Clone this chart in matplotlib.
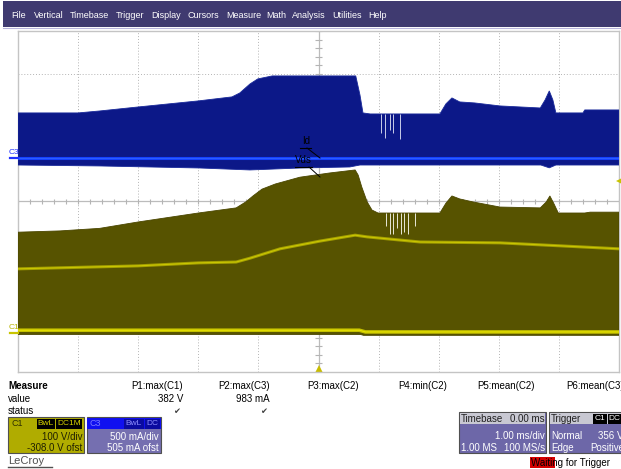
import matplotlib
matplotlib.use("Agg")
import matplotlib.pyplot as plt
import numpy as np
from matplotlib.patches import Rectangle
from matplotlib.lines import Line2D
from matplotlib.collections import LineCollection

plt.rcParams['font.family'] = ['Liberation Sans', 'DejaVu Sans']

W, H = 621, 469

# ---------------- data ----------------
menu_items = ["File", "Vertical", "Timebase", "Trigger", "Display", "Cursors",
              "Measure", "Math", "Analysis", "Utilities", "Help"]
menu_x = [11, 34, 70, 116, 151, 187, 226, 266, 292, 332, 368]

# C3 (Id) persistence envelope: time in ms, current in mA
c3_top_t = [-5.0, -4.0, -3.64, -3.0, -2.0, -1.44, -1.31, -1.14, -1.01, -0.77, 0.62, 0.69,
            0.74, 0.86, 2.02, 2.12, 2.22, 2.35, 2.60, 3.02, 3.69, 3.77, 3.84, 3.90, 3.95,
            4.40, 4.43, 5.0]
c3_top = [534, 534, 557, 604, 675, 722, 768, 874, 933, 968, 968, 745,
          534, 522, 522, 640, 710, 663, 651, 616, 592, 686, 792, 686, 534,
          534, 569, 569]
c3_bot_t = [-5.0, -3.64, -1.97, -1.14, -0.31, 0.52, 0.69, 3.70, 3.84, 3.95, 5.0]
c3_bot = [-77, -88, -112, -135, -112, -100, -77, -77, -110, -77, -77]
c3_line = 0  # mA, bright persistence line
c3_notch_t = [1.04, 1.11, 1.19, 1.24, 1.36]
c3_notch_low = [298, 240, 330, 300, 230]

# C1 (Vds) persistence envelope: time in ms, voltage in V
c1_top_t = [-5.0, -4.30, -3.64, -3.0, -2.0, -1.37, -1.21, -1.09, -0.94, -0.72, -0.31, 0.19,
            0.61, 0.66, 0.72, 0.81, 0.89, 0.99, 2.02, 2.12, 2.22, 2.35, 2.57, 3.02,
            3.69, 3.79, 3.85, 3.92, 3.99, 4.43, 4.52, 5.0]
c1_top = [236, 239, 245, 260, 281, 293, 307, 321, 337, 349, 365, 375,
          382, 370, 342, 307, 288, 281, 281, 304, 321, 314, 307, 295,
          293, 307, 321, 302, 281, 281, 283, 283]
c1_bot_t = [-5.0, 0.70, 0.75, 5.0]
c1_bot = [-4, -4, -6, -6]
c1_base_t = [-5.0, 0.68, 0.78, 5.0]
c1_base = [6, 6, 2, 2]
c1_mid_t = [-5.0, -3.0, -2.0, -1.37, -1.14, -0.64, 0.02, 0.61, 0.81, 1.69, 3.02, 4.02, 5.0]
c1_mid = [150, 157, 164, 166, 175, 197, 215, 229, 225, 213, 211, 204, 197]
c1_notch_t = [1.13, 1.19, 1.24, 1.31, 1.38, 1.43, 1.49, 1.61]
c1_notch_low = [250, 232, 232, 245, 232, 236, 232, 250]

c1_scale, c1_center = 100, 308      # V/div, V at screen centre
c3_scale, c3_center = 500, -505     # mA/div, mA at screen centre
trig_level = 356

meas_names = ["P1:max(C1)", "P2:max(C3)", "P3:max(C2)", "P4:min(C2)", "P5:mean(C2)", "P6:mean(C3)"]
meas_values = ["382 V", "983 mA", "", "", "", ""]
meas_status = [True, True, False, False, False, False]
meas_right = [183, 270, 359, 447, 535, 624]

# ---------------- figure ----------------
fig = plt.figure(figsize=(W / 100, H / 100), dpi=100)
fig.patch.set_facecolor('white')


def fx(px):
    return px / W


def fy(py):
    return 1 - py / H


def txt(px, py, s, **kw):
    kw.setdefault('va', 'center')
    kw.setdefault('fontsize', 7)
    return fig.text(fx(px), fy(py), s, **kw)


def rect(x0, y0, x1, y1, fc, ec='none', lw=0, z=1):
    r = Rectangle((fx(x0), fy(y1)), (x1 - x0) / W, (y1 - y0) / H,
                  transform=fig.transFigure, fc=fc, ec=ec, lw=lw, zorder=z)
    fig.patches.append(r)
    return r


def fline(xs, ys, **kw):
    fig.lines.append(Line2D([fx(x) for x in xs], [fy(y) for y in ys],
                            transform=fig.transFigure, **kw))


# menu bar
rect(3, 1, 621, 27, '#3f3a70')
fline([3, 621], [28, 28], color='#b8b4dc', lw=0.8)
for name, x in zip(menu_items, menu_x):
    txt(x, 15.5, name, color='white', fontsize=6.5)

# grid axes
rect_ax = [fx(18), fy(372), 601 / W, 341 / H]
ax = fig.add_axes(rect_ax)
ax.set_xlim(-5, 5)
ax.set_ylim(-4, 4)
ax.set_xticks([])
ax.set_yticks([])
for s in ax.spines.values():
    s.set_color('#c4c4c4')
    s.set_linewidth(1.0)
for i in range(-4, 5):
    if i != 0:
        ax.axvline(i, color='#b4b4b4', lw=0.7, ls=(0, (1, 2)))
for j in range(-3, 4):
    if j != 0:
        ax.axhline(j, color='#b4b4b4', lw=0.7, ls=(0, (1, 2)))
ax.axvline(0, color='#bcbcbc', lw=0.9)
ax.axhline(0, color='#bcbcbc', lw=0.9)
segs = [[(x, -0.07), (x, 0.07)] for x in np.arange(-5, 5.01, 0.2)]
segs += [[(-0.05, y), (0.05, y)] for y in np.arange(-4, 4.01, 0.2)]
ax.add_collection(LineCollection(segs, colors='#b4b4b4', lw=0.8))

# C1 trace axes (volts)
axV = fig.add_axes(rect_ax)
axV.set_xlim(-5, 5)
axV.set_ylim(c1_center - 4 * c1_scale, c1_center + 4 * c1_scale)
axV.axis('off')
axV.patch.set_alpha(0)
axV.fill(list(c1_top_t) + list(c1_bot_t[::-1]), list(c1_top) + list(c1_bot[::-1]),
         color='#575300', lw=0.6, ec='#4a4600')
axV.plot(c1_mid_t, c1_mid, color='#b0ac00', lw=2.2, alpha=0.85, solid_capstyle='butt')
axV.plot(c1_mid_t, c1_mid, color='#dcd800', lw=0.8, alpha=0.7)
axV.plot(c1_base_t, c1_base, color='#c4c000', lw=2.6, solid_capstyle='butt')
axV.plot(c1_base_t, c1_base, color='#e8e400', lw=0.8)
axV.vlines(c1_notch_t, c1_notch_low, 281, color='#e8e8d8', lw=0.7)
axV.plot([5.0], [trig_level], marker='<', ms=4, color='#c8c400', clip_on=False, mew=0)

# C3 trace axes (mA)
axI = fig.add_axes(rect_ax)
axI.set_xlim(-5, 5)
axI.set_ylim(c3_center - 4 * c3_scale, c3_center + 4 * c3_scale)
axI.axis('off')
axI.patch.set_alpha(0)
axI.fill(list(c3_top_t) + list(c3_bot_t[::-1]), list(c3_top) + list(c3_bot[::-1]),
         color='#0c1888', lw=0.6, ec='#1a2a9a')
axI.axhline(c3_line, color='#1440ff', lw=2.2)
axI.axhline(c3_line, color='#2a5cff', lw=0.8)
axI.vlines(c3_notch_t, c3_notch_low, 522, color='#c8cce8', lw=0.7)

# trigger position marker
ax.plot([0], [-3.93], marker='^', ms=6, color='#c8bc00', clip_on=False, mew=0)

# channel markers on the left
txt(9, 152, 'C3', color='#2030ff', fontsize=6)
fline([10, 18], [158, 158], color='#2030ff', lw=1.6)
txt(9, 327, 'C1', color='#b8b400', fontsize=6)
fline([10, 18], [333, 333], color='#c8c400', lw=1.6)

# annotations Id / Vds
txt(302, 141, 'Id', color='black', fontsize=7)
fline([300, 311], [148, 148], color='black', lw=0.8)
fline([307, 320], [148, 158], color='black', lw=0.7)
txt(295, 160, 'Vds', color='black', fontsize=7)
fline([295, 312], [167, 167], color='black', lw=0.8)
fline([309, 320], [167, 177], color='black', lw=0.7)

# measurement table
txt(8, 386, 'Measure', fontweight='bold', color='black')
txt(8, 398.5, 'value', color='black')
txt(8, 411, 'status', color='black')
for name, val, st, xr in zip(meas_names, meas_values, meas_status, meas_right):
    txt(xr, 386, name, ha='right', color='black')
    if val:
        txt(xr, 398.5, val, ha='right', color='black')
    if st:
        txt(xr - 3, 411, '\u2714', ha='right', color='#404040', fontsize=6,
            family='DejaVu Sans')

# C1 channel box
rect(8, 417, 84, 453, '#b0ac00', ec='#505050', lw=0.8)
txt(11, 423.5, 'C1', color='#303000', fontsize=6.5)
rect(37, 418.5, 55, 428.5, 'black')
rect(56, 418.5, 82, 428.5, 'black')
txt(46, 423.5, 'BwL', color='#d8d400', fontsize=6, ha='center')
txt(69, 423.5, 'DC1M', color='#d8d400', fontsize=6, ha='center')
txt(82, 437, '100 V/div', color='#202000', ha='right')
txt(82, 448, '-308.0 V ofst', color='#202000', ha='right')

# C3 channel box
rect(87, 417, 161, 453, '#756fb0', ec='#505050', lw=0.8)
rect(87.5, 417.5, 160.5, 429, '#1010f0')
txt(90, 423.5, 'C3', color='#7a7aff', fontsize=6.5)
rect(124, 418.5, 144, 428.5, '#0a0aa0')
rect(145, 418.5, 160, 428.5, '#0a0aa0')
txt(134, 423.5, 'BwL', color='#9090ff', fontsize=6, ha='center')
txt(152.5, 423.5, 'DC', color='#9090ff', fontsize=6, ha='center')
txt(159, 437, '500 mA/div', color='white', ha='right')
txt(159, 448, '505 mA ofst', color='white', ha='right')

# LeCroy logo
txt(8, 461, 'LeCroy', color='#505050', fontsize=8)
fline([8, 52], [467, 467], color='#505050', lw=1.0)

# Timebase box
rect(459, 412, 546, 453, '#6d67a8', ec='#505050', lw=0.8)
rect(460, 413, 545, 424, '#c8c8d2')
txt(461, 418.5, 'Timebase', color='#202020')
txt(545, 418.5, '0.00 ms', color='#202020', ha='right')
txt(545, 436, '1.00 ms/div', color='white', ha='right')
txt(461, 447.5, '1.00 MS', color='white')
txt(545, 447.5, '100 MS/s', color='white', ha='right')

# Trigger box
rect(549, 412, 630, 453, '#6d67a8', ec='#505050', lw=0.8)
rect(550, 413, 630, 424, '#c8c8d2')
txt(551, 418.5, 'Trigger', color='#202020')
rect(593, 413.5, 607, 423.5, 'black')
rect(608, 413.5, 621, 423.5, 'black')
txt(600, 418.5, 'C1', color='white', fontsize=6, ha='center')
txt(614.5, 418.5, 'DC', color='white', fontsize=6, ha='center')
txt(551, 436, 'Normal', color='white')
txt(624, 436, '356 V', color='white', ha='right')
txt(551, 447.5, 'Edge', color='white')
txt(624, 447.5, 'Positive', color='white', ha='right')

# status line
rect(530, 457, 555, 468, '#d40000')
txt(531, 462.5, 'Waiting for Trigger', color='black')

fig.savefig('out.png', dpi=100, facecolor='white')
